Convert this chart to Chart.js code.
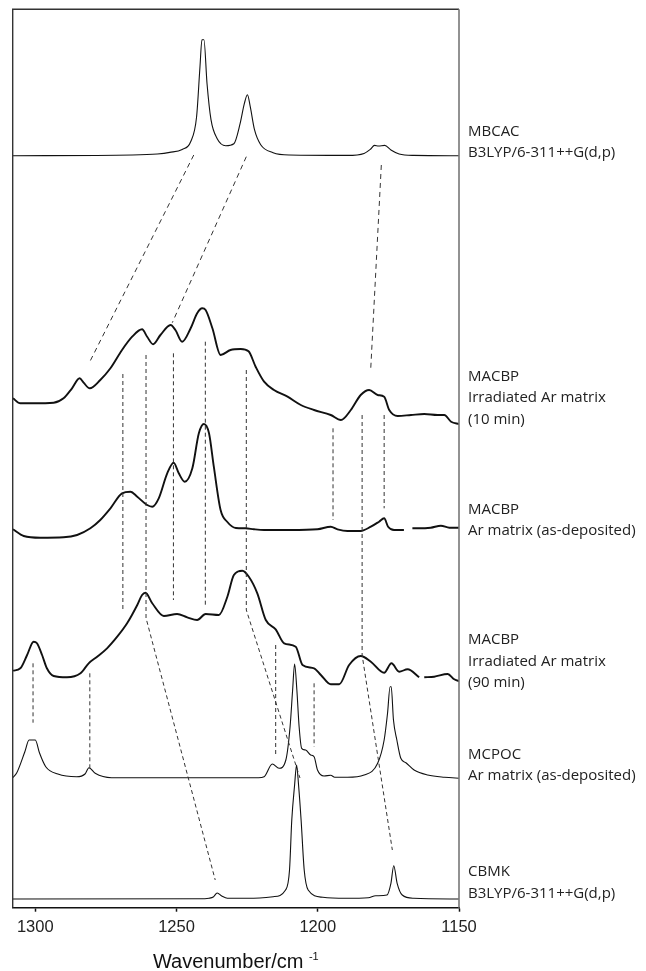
<!DOCTYPE html>
<html>
<head>
<meta charset="utf-8">
<script src="https://cdn.jsdelivr.net/npm/chart.js@4.4.1/dist/chart.umd.min.js"></script>
<style>
body{margin:0;background:#fff;}
canvas{display:block;}
</style>
</head>
<body>
<canvas id="myChart" width="646" height="971"></canvas>
<script>
// x axis: wavenumber (cm-1), drawn reversed
var xTicks = [1300, 1250, 1200, 1150];

// MBCAC, B3LYP/6-311++G(d,p)
var mbcacWn  = [1308,1265.6,1256.8,1252.4,1248,1245,1242.9,1241.7,1241,1240.3,1239.2,1237.8,1235.6,1232.6,1229.7,1227.5,1226,1224.9,1223.9,1222.4,1220.2,1215.8,1210,1189.5,1183.6,1181.4,1179.9,1178.5,1176.3,1174.1,1171.2,1166,1150];
var mbcacAbs = [0,0.7,1.7,3.3,6.3,14,39,89,116,116,72,36,17,10,12,32,52,61,49,26,11,3,0.7,0.3,2.3,6.3,10.3,9.7,10.3,5.7,1.7,0.3,0];

// MACBP, irradiated Ar matrix (10 min)
var irr10Wn  = [1307.9,1305.3,1300.6,1293.5,1290,1287,1284.3,1282.9,1280.7,1277,1273.4,1269.3,1265.7,1262.2,1260.4,1258.3,1255.7,1252.1,1250.4,1248,1245,1242.7,1240.9,1239.7,1237.3,1234.4,1230.9,1227.3,1224.5,1222,1219,1215.5,1210.7,1206,1201.3,1195.4,1191.8,1188.3,1184.8,1181.8,1178.8,1176.5,1174.7,1171.7,1167,1162.3,1157.6,1155.2,1152.8,1149.9];
var irr10Abs = [5,0,0,0.6,5,15,25,20.6,15,23.3,35,53.3,66.6,74,66.6,59,68.3,78.3,73.3,61.6,75,90,95,93.3,75,48.3,53.3,54.3,52,36.6,21.6,13.3,6.6,-1.7,-6.7,-11.7,-16.7,-6.7,8.3,13.3,8.3,6.6,-6.7,-12.7,-11.7,-10.7,-11.7,-11.7,-18.4,-20.7];

// MACBP, Ar matrix (as-deposited)
var asdepWn  = [1307.9,1304.1,1298.2,1290,1285.2,1280.5,1277,1273.4,1269.3,1266.3,1263.9,1260.4,1258.6,1256.3,1253.3,1251,1249.2,1247.1,1244.4,1242.1,1240.3,1238.5,1236.8,1234.4,1232,1229,1225.5,1222.6,1219,1209.6,1200.1,1195.4,1193,1189.5,1184.8,1181.2,1178.3,1176.5,1175.1,1173,1169.5,1168,1166.5,1164.6,1160,1156.4,1153.4,1149.9];
var asdepAbs = [8.4,1.7,0,0.4,2.7,9.4,17.7,29.4,44.4,46,41,32.7,31,39.4,64.4,75,64.4,56,69.4,104.4,113.7,104.4,71,27.7,15.7,9.7,9.4,8.4,7.7,7.7,8.4,11,8.4,6.7,6.7,11,16,19.4,11,7.7,7.7,null,9.4,9.4,10,12,10,10];

// MACBP, irradiated Ar matrix (90 min)
var irr90Wn  = [1307.9,1305.3,1302.9,1300.6,1299.4,1297.6,1295.9,1293.5,1288.8,1284,1281.1,1278.1,1274.6,1271,1267.5,1263.9,1262.2,1261,1258.6,1254.5,1249.8,1246.2,1242.7,1239.7,1235,1232,1229.7,1226.7,1224.4,1221.4,1218.4,1214.9,1211.9,1207.8,1205.4,1201.3,1198.9,1195.4,1192.4,1188.9,1184.8,1181.2,1176.5,1173.9,1171.2,1168.2,1164.1,1163.2,1162.3,1158.8,1154,1151.7,1149.3];
var irr90Abs = [6.6,9,22.3,35.6,34,22.3,9,1.3,0,4,14,20.6,29,40.6,54,72.3,82.3,84.6,74,61.3,63.3,60,57.3,63.3,62.3,80.6,102.3,106.6,100.6,84,57.3,48,34,30.6,12.3,9,2.3,-7,-7,12.3,21.3,15.6,4.6,14,5.6,8,0,null,0,0.6,3.3,-2,-4.4];

// MCPOC, Ar matrix (as-deposited)
var mcpocWn  = [1308,1306.6,1303.7,1302.2,1300,1298.5,1296.3,1292,1285.4,1282.4,1281,1278.8,1273,1221,1219,1216.1,1213.7,1211.3,1209.8,1208.9,1208.2,1207.4,1206.6,1205.7,1204.3,1202.5,1201.3,1200.1,1197.8,1195.4,1194,1189.5,1183.6,1178.8,1176.5,1175.3,1174.4,1174,1173.2,1172,1170.6,1168.8,1165.9,1161.1,1155.2,1149.3];
var mcpocAbs = [0.3,5,26.3,38,38,25,11.3,4,1.3,4,10.3,4.7,0.3,0.3,1.3,14,9.7,18,51.3,88,114,88,51.3,29.7,28,23,21.3,8,2,2.7,0.7,0.7,3,14.7,38,64.7,91.3,91.3,58,38,19.7,15.3,8,3,0.7,-0.3];

// CBMK, B3LYP/6-311++G(d,p)
var cbmkWn  = [1308,1240,1238.5,1237,1235.6,1234,1232,1224.6,1215.8,1211.4,1210,1209.2,1208.2,1207.5,1206.8,1205.9,1204.8,1203.4,1198.2,1190,1182.1,1179.5,1178.5,1175.5,1174.1,1173.1,1171.9,1170.1,1166,1150];
var cbmkAbs = [0,0.3,0.7,2,6,3,0.7,0.7,2.3,9,29,79,114,134,114,79,29,9,1.7,0.7,1.3,3.3,3.3,4,15.7,33.3,15.7,4,0.7,0];

// stacking offsets of the traces (same units as the intensities)
var traceOffsets = [752, 504.4, 370, 230.4, 129.7, 8.7];
var traceNames = [
    ["MBCAC", "B3LYP/6-311++G(d,p)"],
    ["MACBP", "Irradiated Ar matrix", "(10 min)"],
    ["MACBP", "Ar matrix (as-deposited)"],
    ["MACBP", "Irradiated Ar matrix", "(90 min)"],
    ["MCPOC", "Ar matrix (as-deposited)"],
    ["CBMK", "B3LYP/6-311++G(d,p)"]
];

// dashed correlation lines, [wavenumber, y] points
var guideLong = [
    [[1243.9, 752.7], [1280.7, 546]],
    [[1225.3, 751], [1251.5, 585]],
    [[1177.5, 742.7], [1181.3, 536]]
];
var guideShort = [
    [[1269, 533.7], [1269, 297.7]],
    [[1260.8, 552.7], [1260.8, 289.7], [1236.3, 27.7]],
    [[1251.1, 554.4], [1251.1, 307.7]],
    [[1239.8, 566], [1239.8, 302.7]],
    [[1225.3, 537.7], [1225.3, 297.7], [1206.3, 129.7]],
    [[1194.6, 479.4], [1194.6, 387.7]],
    [[1184.3, 492.7], [1184.3, 252.7], [1173.6, 57.7]],
    [[1176.5, 492.7], [1176.5, 399.4]],
    [[1300.8, 244.4], [1300.8, 185]],
    [[1280.7, 234.4], [1280.7, 139.4]],
    [[1214.9, 262.7], [1214.9, 151]],
    [[1201.3, 224.4], [1201.3, 161]]
];

var spectra = [
    {wn: mbcacWn, abs: mbcacAbs, exp: false},
    {wn: irr10Wn, abs: irr10Abs, exp: true},
    {wn: asdepWn, abs: asdepAbs, exp: true},
    {wn: irr90Wn, abs: irr90Abs, exp: true},
    {wn: mcpocWn, abs: mcpocAbs, exp: false},
    {wn: cbmkWn, abs: cbmkAbs, exp: false}
];

var labelNudge = [-2.7, 16, -6.7, 5.6, -2, -5.7];
var labelLineGap = 21.5;

function makeDatasets(){
    var sets = [];
    for(let i=0; i<guideLong.length; i++){
        sets.push(guideSet(guideLong[i], [5, 4]));
    }
    for(let i=0; i<guideShort.length; i++){
        sets.push(guideSet(guideShort[i], [4, 3]));
    }
    for(let i=0; i<spectra.length; i++){
        var s = spectra[i];
        var pts = [];
        for(let j=0; j<s.wn.length; j++){
            pts.push({x: s.wn[j], y: s.abs[j] === null ? null : traceOffsets[i] + s.abs[j]});
        }
        sets.push({
            data: pts,
            borderColor: "#111",
            borderWidth: s.exp ? 1.9 : 1.1,
            borderJoinStyle: "round",
            pointRadius: 0,
            cubicInterpolationMode: "monotone",
            spanGaps: false,
            fill: false
        });
    }
    return sets;
}

function guideSet(line, dash){
    return {
        data: line.map(function(p){ return {x: p[0], y: p[1]}; }),
        borderColor: "#333",
        borderWidth: 1,
        borderDash: dash,
        pointRadius: 0,
        tension: 0,
        fill: false
    };
}

var framePlugin = {
    id: "frame",
    afterDatasetsDraw: function(chart){
        var a = chart.chartArea, ctx = chart.ctx;
        ctx.save();
        ctx.lineWidth = 1.4;
        ctx.strokeStyle = "#333";
        ctx.beginPath();
        ctx.moveTo(a.left, a.bottom);
        ctx.lineTo(a.left, a.top);
        ctx.lineTo(a.right, a.top);
        ctx.stroke();
        ctx.strokeStyle = "#777";
        ctx.lineWidth = 1.6;
        ctx.beginPath();
        ctx.moveTo(a.right, a.top);
        ctx.lineTo(a.right, a.bottom);
        ctx.stroke();
        ctx.restore();
    }
};

var textPlugin = {
    id: "texts",
    afterDraw: function(chart){
        var a = chart.chartArea, ctx = chart.ctx, ys = chart.scales.y;
        ctx.save();
        ctx.fillStyle = "#222";
        ctx.textAlign = "left";
        ctx.textBaseline = "middle";
        ctx.font = "15px 'Open Sans'";
        for(let i=0; i<traceNames.length; i++){
            var lines = traceNames[i];
            var yLast = ys.getPixelForValue(traceOffsets[i]) + labelNudge[i];
            for(let j=0; j<lines.length; j++){
                ctx.fillText(lines[j], a.right + 9, yLast - (lines.length - 1 - j) * labelLineGap);
            }
        }
        // axis title with superscript
        ctx.textBaseline = "alphabetic";
        ctx.fillStyle = "#111";
        var main = "Wavenumber/cm", sup = "-1";
        ctx.font = "20px 'Liberation Sans', Arial";
        var wMain = ctx.measureText(main + " ").width;
        ctx.font = "11px 'Liberation Sans', Arial";
        var wSup = ctx.measureText(sup).width;
        var x0 = (a.left + a.right) / 2 - (wMain + wSup) / 2;
        ctx.font = "20px 'Liberation Sans', Arial";
        ctx.fillText(main, x0, a.bottom + 60.5);
        ctx.font = "11px 'Liberation Sans', Arial";
        ctx.fillText(sup, x0 + wMain, a.bottom + 52);
        ctx.restore();
    }
};

function main(){
    var graph = new Chart("myChart", {
        type: "line",
        data: {datasets: makeDatasets()},
        options: {
            responsive: false,
            devicePixelRatio: 1,
            animation: false,
            events: [],
            layout: {autoPadding: false, padding: {left: 12.7, right: 187, top: 9.3, bottom: 0}},
            plugins: {legend: {display: false}, tooltip: {enabled: false}},
            scales: {
                x: {
                    type: "linear",
                    reverse: true,
                    min: 1150,
                    max: 1308,
                    afterBuildTicks: function(scale){
                        scale.ticks = xTicks.map(function(v){ return {value: v}; });
                    },
                    afterFit: function(scale){ scale.height = 63.3; },
                    grid: {drawOnChartArea: false, drawTicks: true, tickLength: 4, tickColor: "#111", tickWidth: 1.5},
                    border: {display: true, color: "#111", width: 1.5},
                    ticks: {
                        padding: 6,
                        color: "#222",
                        font: {family: "'Liberation Sans', Arial", size: 16.5},
                        callback: function(v){ return String(v); }
                    }
                },
                y: {
                    display: false,
                    min: 0,
                    max: 898.4
                }
            }
        },
        plugins: [framePlugin, textPlugin]
    });
}

main();
</script>
</body>
</html>
